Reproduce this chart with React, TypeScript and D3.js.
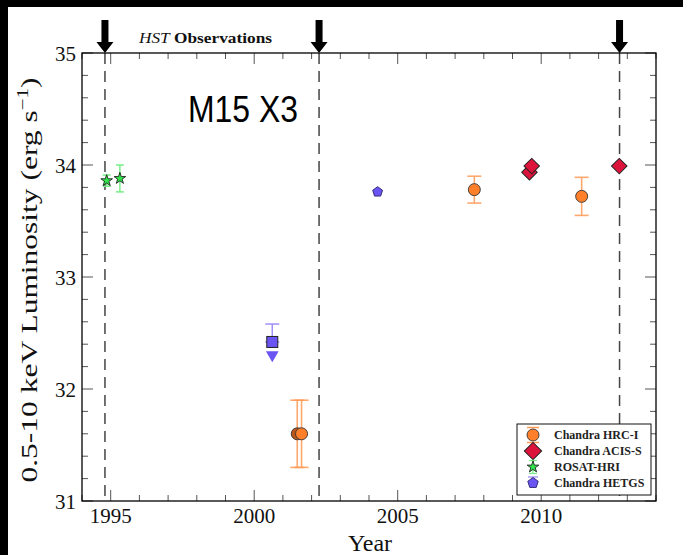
import React from "react";
import * as d3 from "d3";

// Observation epochs (decimal year) and 0.5-10 keV luminosities (log erg/s)
const hrcYears = [2001.5, 2001.65, 2007.67, 2011.41];
const hrcLum = [31.6, 31.6, 33.78, 33.72];
const hrcErr = [0.3, 0.3, 0.12, 0.17];

const acisYears = [2009.59, 2009.67, 2012.72];
const acisLum = [33.935, 33.99, 33.99];

const rosatYears = [1994.86, 1995.32];
const rosatLum = [33.86, 33.88];
const rosatErr = [0.05, 0.12];

const hetgsYears = [2004.3];
const hetgsLum = [33.76];

// HETGS upper limit (square with downward arrow)
const limitYears = [2000.63];
const limitLum = [32.42];
const limitErrUp = [0.16];

// HST epochs marked with arrows and dashed lines
const hstYears = [1994.8, 2002.26, 2012.73];

const xTickLabels = [1995, 2000, 2005, 2010];
const yTickLabels = [31, 32, 33, 34, 35];

const legendLabels = ["Chandra HRC-I", "Chandra ACIS-S", "ROSAT-HRI", "Chandra HETGS"];

const W = 683;
const H = 555;
const M = { left: 82, right: 656, top: 53, bottom: 501 };

const ORANGE = "#ff7f2a";
const ORANGE_ERR = "#ff9a55";
const RED = "#dc143c";
const GREEN = "#2ee64a";
const GREEN_ERR = "#77ee88";
const BLUE = "#6a55f2";
const BLUE_ERR = "#9f90f5";
const SERIF = "'Liberation Serif', 'DejaVu Serif', serif";

const x = d3.scaleLinear().domain([1994, 2014]).range([M.left, M.right]);
const y = d3.scaleLinear().domain([31, 35]).range([M.bottom, M.top]);

const starPath = d3.symbol().type(d3.symbolStar).size(42)()!;
const diamondPath = d3.symbol().type(d3.symbolSquare).size(120)()!;
const legendDiamondPath = d3.symbol().type(d3.symbolSquare).size(150)()!;
const trianglePath = d3.symbol().type(d3.symbolTriangle).size(70)()!;

function pentagon(r: number) {
  const pts: [number, number][] = d3.range(5).map((i) => {
    const a = -Math.PI / 2 + (i * 2 * Math.PI) / 5;
    return [r * Math.cos(a), r * Math.sin(a)];
  });
  return d3.line()(pts)! + "Z";
}

function ErrBar({ cx, lo, hi, hw, color, width = 1.5, opacity = 1 }: any) {
  return (
    <g stroke={color} strokeWidth={width} opacity={opacity}>
      <line x1={cx} x2={cx} y1={lo} y2={hi} />
      <line x1={cx - hw} x2={cx + hw} y1={lo} y2={lo} />
      <line x1={cx - hw} x2={cx + hw} y1={hi} y2={hi} />
    </g>
  );
}

export default function App() {
  const xMinor = d3.range(1994, 2015, 1);
  const yMinor = d3.range(31, 35.0001, 0.2);

  return (
    <svg
      width={W}
      height={H}
      style={{ position: "absolute", left: 0, top: 0, background: "#fff" }}
      fontFamily={SERIF}
    >
      <rect x={0} y={0} width={W} height={H} fill="#fff" />
      <rect x={0} y={0} width={W} height={7} fill="#000" />
      <rect x={0} y={0} width={8} height={H} fill="#000" />

      {/* ticks on all four sides */}
      <g stroke="#555" strokeWidth={1}>
        {xMinor.map((v) => {
          const len = xTickLabels.includes(v) ? 11 : 6;
          return (
            <g key={"xt" + v}>
              <line x1={x(v)} x2={x(v)} y1={M.bottom} y2={M.bottom - len} />
              <line x1={x(v)} x2={x(v)} y1={M.top} y2={M.top + len} />
            </g>
          );
        })}
        {yMinor.map((v) => {
          const major = Math.abs(v - Math.round(v)) < 1e-6;
          const len = major ? 11 : 6;
          return (
            <g key={"yt" + v.toFixed(1)}>
              <line x1={M.left} x2={M.left + len} y1={y(v)} y2={y(v)} />
              <line x1={M.right} x2={M.right - len} y1={y(v)} y2={y(v)} />
            </g>
          );
        })}
      </g>

      {/* HST epochs */}
      {hstYears.map((t) => (
        <g key={"hst" + t}>
          <line
            x1={x(t)}
            x2={x(t)}
            y1={M.top}
            y2={M.bottom}
            stroke="#444"
            strokeWidth={1.5}
            strokeDasharray="11,7"
          />
          <path
            d={`M${x(t) - 3.5},20 L${x(t) + 3.5},20 L${x(t) + 3.5},42 L${x(t) + 8.5},42 L${x(t)},53 L${x(t) - 8.5},42 L${x(t) - 3.5},42 Z`}
            fill="#000"
          />
        </g>
      ))}

      {/* frame */}
      <rect
        x={M.left}
        y={M.top}
        width={M.right - M.left}
        height={M.bottom - M.top}
        fill="none"
        stroke="#000"
        strokeWidth={1.3}
      />

      {/* tick labels */}
      {xTickLabels.map((v) => (
        <text key={"xl" + v} x={x(v)} y={523} fontSize={21} textAnchor="middle" fill="#111">
          {v}
        </text>
      ))}
      {yTickLabels.map((v) => (
        <text key={"yl" + v} x={76} y={y(v) + 7.5} fontSize={21} textAnchor="end" fill="#111">
          {v}
        </text>
      ))}

      {/* axis titles */}
      <text x={370} y={551} fontSize={24} textAnchor="middle" fill="#111">
        Year
      </text>
      <text
        transform="translate(37,280) rotate(-90)"
        fontSize={24}
        textAnchor="middle"
        fill="#111"
        textLength={405}
        lengthAdjust="spacingAndGlyphs"
      >
        0.5-10 keV Luminosity (erg s
        <tspan fontSize={16} dy={-9}>
          −1
        </tspan>
        <tspan dy={9}>)</tspan>
      </text>

      <text x={139} y={43} fontSize={15} fill="#111" textLength={133} lengthAdjust="spacingAndGlyphs">
        <tspan fontStyle="italic">HST</tspan> <tspan fontWeight="bold">Observations</tspan>
      </text>

      <text
        x={188}
        y={122}
        fontSize={37}
        fontFamily="'Liberation Sans', Arial, sans-serif"
        fill="#000"
        textLength={110}
        lengthAdjust="spacingAndGlyphs"
      >
        M15 X3
      </text>

      {/* ROSAT-HRI */}
      {rosatYears.map((t, i) => (
        <g key={"ro" + i}>
          <ErrBar
            cx={x(t)}
            lo={y(rosatLum[i] - rosatErr[i])}
            hi={y(rosatLum[i] + rosatErr[i])}
            hw={4}
            color={GREEN_ERR}
          />
          <path
            d={starPath}
            transform={`translate(${x(t)},${y(rosatLum[i])})`}
            fill={GREEN}
            stroke="#222"
            strokeWidth={0.9}
          />
        </g>
      ))}

      {/* HETGS upper limit */}
      {limitYears.map((t, i) => {
        const cx = x(t);
        const cy = y(limitLum[i]);
        return (
          <g key={"lim" + i}>
            <ErrBar cx={cx} lo={cy} hi={y(limitLum[i] + limitErrUp[i])} hw={7} color={BLUE_ERR} />
            <rect x={cx - 5.5} y={cy - 5.5} width={11} height={11} fill={BLUE} stroke="#222" strokeWidth={1} />
            <path d={trianglePath} transform={`translate(${cx},${cy + 13}) rotate(180)`} fill={BLUE} />
          </g>
        );
      })}

      {/* HETGS */}
      {hetgsYears.map((t, i) => (
        <path
          key={"he" + i}
          d={pentagon(5.2)}
          transform={`translate(${x(t)},${y(hetgsLum[i])})`}
          fill={BLUE}
          stroke="#2a2070"
          strokeWidth={0.9}
        />
      ))}

      {/* Chandra HRC-I */}
      {hrcYears.map((t, i) => (
        <ErrBar
          key={"hre" + i}
          cx={x(t)}
          lo={y(hrcLum[i] - hrcErr[i])}
          hi={y(hrcLum[i] + hrcErr[i])}
          hw={7}
          color={ORANGE_ERR}
          width={1.6}
          opacity={0.85}
        />
      ))}
      {hrcYears.map((t, i) => (
        <circle
          key={"hrc" + i}
          cx={x(t)}
          cy={y(hrcLum[i])}
          r={6}
          fill={i === 0 ? "#b8561c" : ORANGE}
          stroke="#333"
          strokeWidth={0.9}
        />
      ))}

      {/* Chandra ACIS-S */}
      {acisYears.map((t, i) => (
        <path
          key={"ac" + i}
          d={diamondPath}
          transform={`translate(${x(t)},${y(acisLum[i])}) rotate(45)`}
          fill={RED}
          stroke="#222"
          strokeWidth={1}
        />
      ))}

      {/* legend */}
      <g>
        <rect x={517} y={424} width={134} height={71} fill="#fff" stroke="#111" strokeWidth={1} />
        {/* HRC-I */}
        <g transform="translate(533,435)">
          <line x1={-6} x2={6} y1={-7.5} y2={-7.5} stroke={ORANGE_ERR} strokeWidth={1.5} />
          <line x1={-6} x2={6} y1={7.5} y2={7.5} stroke={ORANGE_ERR} strokeWidth={1.5} />
          <circle r={6} fill={ORANGE} stroke="#333" strokeWidth={0.9} />
        </g>
        {/* ACIS-S */}
        <path d={legendDiamondPath} transform="translate(533,451) rotate(45)" fill={RED} stroke="#222" strokeWidth={1} />
        {/* ROSAT */}
        <g transform="translate(533,467)">
          <line x1={-4} x2={4} y1={-6.5} y2={-6.5} stroke={GREEN_ERR} strokeWidth={1.3} />
          <line x1={-4} x2={4} y1={6.5} y2={6.5} stroke={GREEN_ERR} strokeWidth={1.3} />
          <line x1={0} x2={0} y1={-6.5} y2={6.5} stroke={GREEN_ERR} strokeWidth={1.3} />
          <path d={starPath} fill={GREEN} stroke="#222" strokeWidth={0.9} />
        </g>
        {/* HETGS */}
        <g transform="translate(533,483)">
          <line x1={-5} x2={5} y1={-6} y2={-6} stroke={BLUE_ERR} strokeWidth={1.3} />
          <path d={pentagon(5.5)} fill={BLUE} stroke="#2a2070" strokeWidth={0.9} />
        </g>
        {legendLabels.map((s, i) => (
          <text key={s} x={554} y={439 + i * 16} fontSize={12} fontWeight="bold" fill="#222">
            {s}
          </text>
        ))}
      </g>
    </svg>
  );
}
